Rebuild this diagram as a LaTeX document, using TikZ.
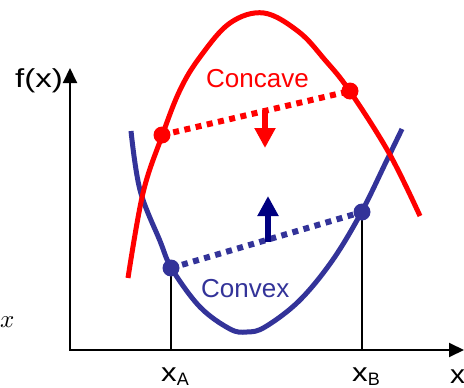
\documentclass[tikz,border=0pt]{standalone}
\usepackage{fontspec}
\setmainfont{Liberation Sans}
\usetikzlibrary{arrows.meta}
\definecolor{cvx}{HTML}{333399}
\definecolor{navyb}{HTML}{000080}
\begin{document}
\begin{tikzpicture}[x=1pt,y=-1pt,
  curve/.style={line width=5pt, line join=round},
  dotline/.style={line width=6pt, dash pattern=on 6pt off 5.5pt},
  dot/.style={circle, inner sep=0pt, minimum size=17pt},
  axis/.style={line width=2pt, line join=miter, {Triangle[length=15pt,width=14pt]}-{Triangle[length=15pt,width=14pt]}},
  bigarrow/.style={line width=6pt, -{Triangle[length=20pt,width=20pt]}},
  lbl/.style={inner sep=0pt, anchor=base west, font=\fontsize{26pt}{30pt}\selectfont}]
\useasboundingbox (0,0) rectangle (464,388);
% axes
\coordinate (O) at (70,350);
\coordinate (yT) at (70,68);
\coordinate (xT) at (464,350);
\draw[axis] (yT) -- (O) -- (xT);
% labels
\node[lbl] (fx) at (15,87) {\scalebox{1.27}[1]{f(x)}};
\node[lbl] (xlab) at (450,383) {\scalebox{1.15}[1]{x}};
\node[inner sep=0pt, anchor=base west] (xit) at (0,327) {\scalebox{2.5}{$x$}};
% convex curve
\draw[curve, cvx] plot[smooth, tension=0.6] coordinates {(131,131) (140,190) (160,241) (172,269) (200,307) (230,329) (247,332) (265,327) (299,301) (332,261) (361,213) (386,162) (402,129)};
% concave curve
\draw[curve, red] plot[smooth, tension=0.6] coordinates {(128,278) (143,193) (162,136) (180,90) (200,57) (230,23) (264,13) (299,32) (325,60) (349,90) (389,153) (420,216)};
% points
\coordinate (rA) at (162,135);
\coordinate (rB) at (350,91);
\coordinate (bA) at (171,268);
\coordinate (bB) at (362,212);
\coordinate (bAx) at (171,350);
\coordinate (bBx) at (362,350);
\draw[line width=1.5pt] (bA) -- (bAx);
\draw[line width=1.5pt] (bB) -- (bBx);
\draw[dotline, red] (rA) -- (rB);
\draw[dotline, cvx] (bA) -- (bB);
\node[dot, fill=red] (dA) at (rA) {};
\node[dot, fill=red] (dB) at (rB) {};
\node[dot, fill=cvx] (eA) at (bA) {};
\node[dot, fill=cvx] (eB) at (bB) {};
% arrows
\coordinate (ra1) at (265,110);
\coordinate (ra2) at (265,148);
\draw[bigarrow, red] (ra1) -- (ra2);
\coordinate (ba1) at (268,242);
\coordinate (ba2) at (268,196);
\draw[bigarrow, navyb] (ba1) -- (ba2);
% text
\node[lbl, text=red] (conc) at (206,87) {Concave};
\node[lbl, text=cvx] (conv) at (201,297) {Convex};
\node[lbl] (xa) at (161,381) {\scalebox{1.2}[1]{x}\raisebox{-4pt}{\fontsize{18pt}{20pt}\selectfont A}};
\node[lbl] (xb) at (352,381) {\scalebox{1.2}[1]{x}\raisebox{-4pt}{\fontsize{18pt}{20pt}\selectfont B}};
\end{tikzpicture}
\end{document}
